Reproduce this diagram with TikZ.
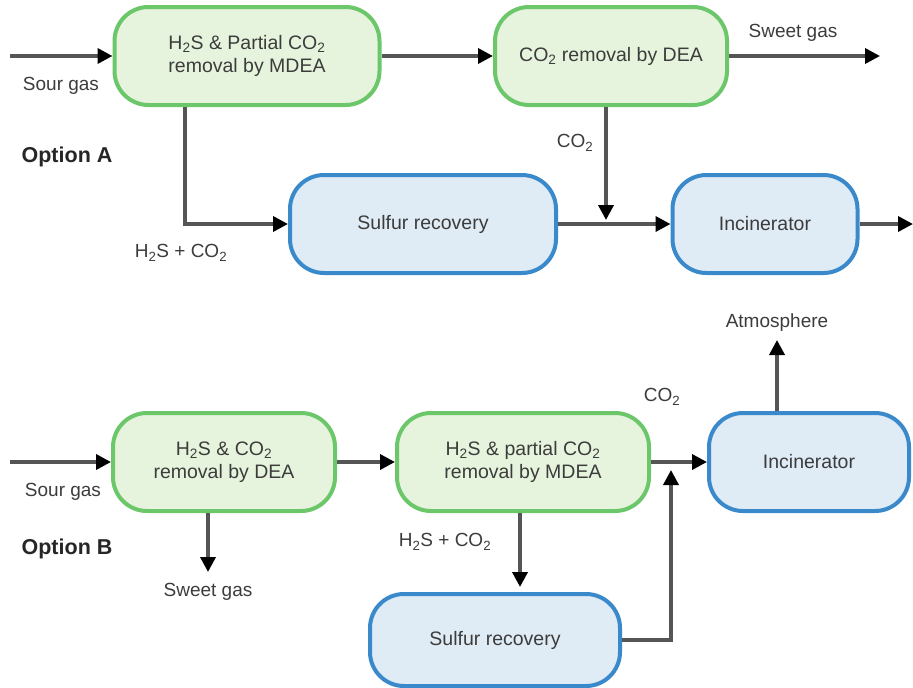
\documentclass[tikz,border=0pt]{standalone}
\usepackage{fontspec}
\setmainfont{Liberation Sans}
\usetikzlibrary{arrows.meta}
\definecolor{gline}{HTML}{6CC66A}
\definecolor{gfill}{HTML}{E6F4DD}
\definecolor{bline}{HTML}{3A8ACB}
\definecolor{bfill}{HTML}{DFEBF5}
\definecolor{conn}{HTML}{555555}
\definecolor{txt}{HTML}{3C3C3C}
\newcommand{\sub}[1]{\textsubscript{#1}}
\begin{document}
\begin{tikzpicture}[x=1pt,y=-1pt,
  proc/.style={rounded corners=34pt, line width=4pt, minimum height=98pt, align=center, text=txt, font=\fontsize{19.5}{23}\selectfont, inner sep=0pt},
  gbox/.style={proc, draw=gline, fill=gfill},
  bbox/.style={proc, draw=bline, fill=bfill},
  flow/.style={draw=conn, line width=3.5pt, -{Triangle[length=15pt,width=15pt,color=black]}},
  lbl/.style={text=txt, font=\fontsize{19}{23}\selectfont, inner sep=0pt},
  opt/.style={text=black!85, font=\bfseries\fontsize{21.5}{25}\selectfont, inner sep=0pt}]
\useasboundingbox (0,0) rectangle (913,688);

% Option A
\node[gbox, minimum width=265pt] (A1) at (247,56) {H\sub{2}S \& Partial CO\sub{2}\\removal by MDEA};
\node[gbox, minimum width=232pt] (A2) at (611,56) {CO\sub{2} removal by DEA};
\node[bbox, minimum width=266pt] (SA) at (423,224) {Sulfur recovery};
\node[bbox, minimum width=185pt] (IA) at (765,224) {Incinerator};

\coordinate (inA) at (10,56);
\coordinate (sweetA) at (880,56);
\coordinate (jA) at (185,224);
\coordinate (dA) at (606,220);
\coordinate (outA) at (913,224);

\draw[flow] (inA) -- (A1.west);
\draw[flow] (A1.east) -- (A2.west);
\draw[flow] (A2.east) -- (sweetA);
\draw[flow] (jA |- A1.south) -- (jA) -- (SA.west);
\draw[flow] (dA |- A2.south) -- (dA);
\draw[flow] (SA.east) -- (IA.west);
\draw[flow] (IA.east) -- (outA);

\node[lbl] (lsourA) at (61,86) {Sour gas};
\node[opt] (optA) at (67,157) {Option A};
\node[lbl] (lh2sA) at (181,253) {H\sub{2}S + CO\sub{2}};
\node[lbl] (lco2A) at (575,143) {CO\sub{2}};
\node[lbl] (lsweetA) at (793,33) {Sweet gas};

% Option B
\node[gbox, minimum width=222pt] (B1) at (224,462) {H\sub{2}S \& CO\sub{2}\\removal by DEA};
\node[gbox, minimum width=252pt] (B2) at (523,462) {H\sub{2}S \& partial CO\sub{2}\\removal by MDEA};
\node[bbox, minimum width=200pt] (IB) at (809,462) {Incinerator};
\node[bbox, minimum width=250pt, minimum height=92pt] (SB) at (495,640) {Sulfur recovery};

\coordinate (inB) at (10,462);
\coordinate (sweetB) at (208,572);
\coordinate (dB) at (520,587);
\coordinate (jB) at (671,640);
\coordinate (upB) at (671,470);
\coordinate (atm) at (777,340);

\draw[flow] (inB) -- (B1.west);
\draw[flow] (sweetB |- B1.south) -- (sweetB);
\draw[flow] (B1.east) -- (B2.west);
\draw[flow] (B2.east) -- (IB.west);
\draw[flow] (dB |- B2.south) -- (dB);
\draw[flow] (SB.east) -- (jB) -- (upB);
\draw[flow] (atm |- IB.north) -- (atm);

\node[lbl] (lsourB) at (63,492) {Sour gas};
\node[opt] (optB) at (67,549) {Option B};
\node[lbl] (lsweetB) at (208,592) {Sweet gas};
\node[lbl] (lh2sB) at (445,542) {H\sub{2}S + CO\sub{2}};
\node[lbl] (lco2B) at (662,397) {CO\sub{2}};
\node[lbl] (latm) at (777,323) {Atmosphere};
\end{tikzpicture}
\end{document}
